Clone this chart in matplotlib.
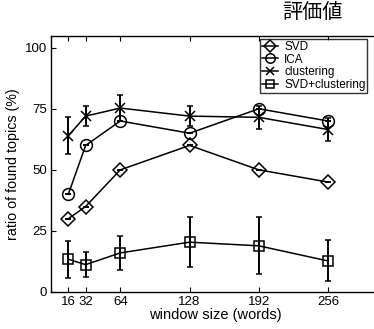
import numpy as np
import matplotlib
matplotlib.use("Agg")
import matplotlib.pyplot as plt
from matplotlib.lines import Line2D

plt.rcParams['font.family'] = ['Liberation Sans', 'DejaVu Sans']

# window sizes (words)
window = [16, 32, 64, 128, 192, 256]

# ratio of found topics (%)
svd = [30, 35, 50, 60, 50, 45]
svd_err = [0, 0, 0, 0, 0, 0]
ica = [40, 60, 70, 65, 75, 70]
ica_err = [0, 0, 0, 0, 0, 0]
clus = [64, 72, 75.3, 72, 71.5, 66.5]
clus_err = [7.6, 4.0, 5.5, 4.0, 4.8, 4.7]
svdclus = [13.4, 11.2, 16, 20.4, 18.9, 12.7]
svdclus_err = [7.5, 5.2, 7.0, 10.2, 11.6, 8.4]

series = [
    ("SVD", svd, svd_err, "D", 7.5),
    ("ICA", ica, ica_err, "o", 8.5),
    ("clustering", clus, clus_err, "x", 7),
    ("SVD+clustering", svdclus, svdclus_err, "s", 7),
]

fig = plt.figure(figsize=(3.74, 3.29), dpi=100)
ax = fig.add_axes([51 / 374, 37 / 329, 328 / 374, 256.5 / 329])

handles = []
for name, vals, err, mk, ms in series:
    ax.errorbar(window, vals, yerr=err, color='black', lw=1.1, elinewidth=1.4,
                capsize=2.5, capthick=1.3, marker=mk, ms=ms, mfc='none',
                mec='black', mew=1.1)
    handles.append(Line2D([], [], color='black', lw=1.1, marker=mk,
                          ms=ms * 0.8, mfc='none', mec='black', mew=1.1,
                          label=name))

ax.set_xlim(0, 303)
ax.set_ylim(0, 105)
ax.set_xticks(window)
ax.set_yticks([0, 25, 50, 75, 100])
ax.tick_params(direction='in', top=True, right=True, length=3.5, width=0.8,
               labelsize=9.5, pad=3)
for s in ax.spines.values():
    s.set_linewidth(1.0)

ax.set_xlabel("window size (words)", fontsize=10.5, labelpad=0)
ax.set_ylabel("ratio of found topics (%)", fontsize=10.3, labelpad=3)

leg = ax.legend(handles=handles, loc='upper right',
                bbox_to_anchor=(0.968, 0.99), fontsize=8.5,
                frameon=True, fancybox=False, edgecolor='black',
                handlelength=1.4, handletextpad=0.5, borderpad=0.15,
                labelspacing=0.05, borderaxespad=0.1)
leg.get_frame().set_linewidth(1.0)

fig.text(312 / 374, 1 - 13 / 329, "評価値", ha='center', va='center',
         fontsize=14.5, family=['Noto Sans CJK JP', 'DejaVu Sans'])

fig.savefig("out.png", dpi=100)
